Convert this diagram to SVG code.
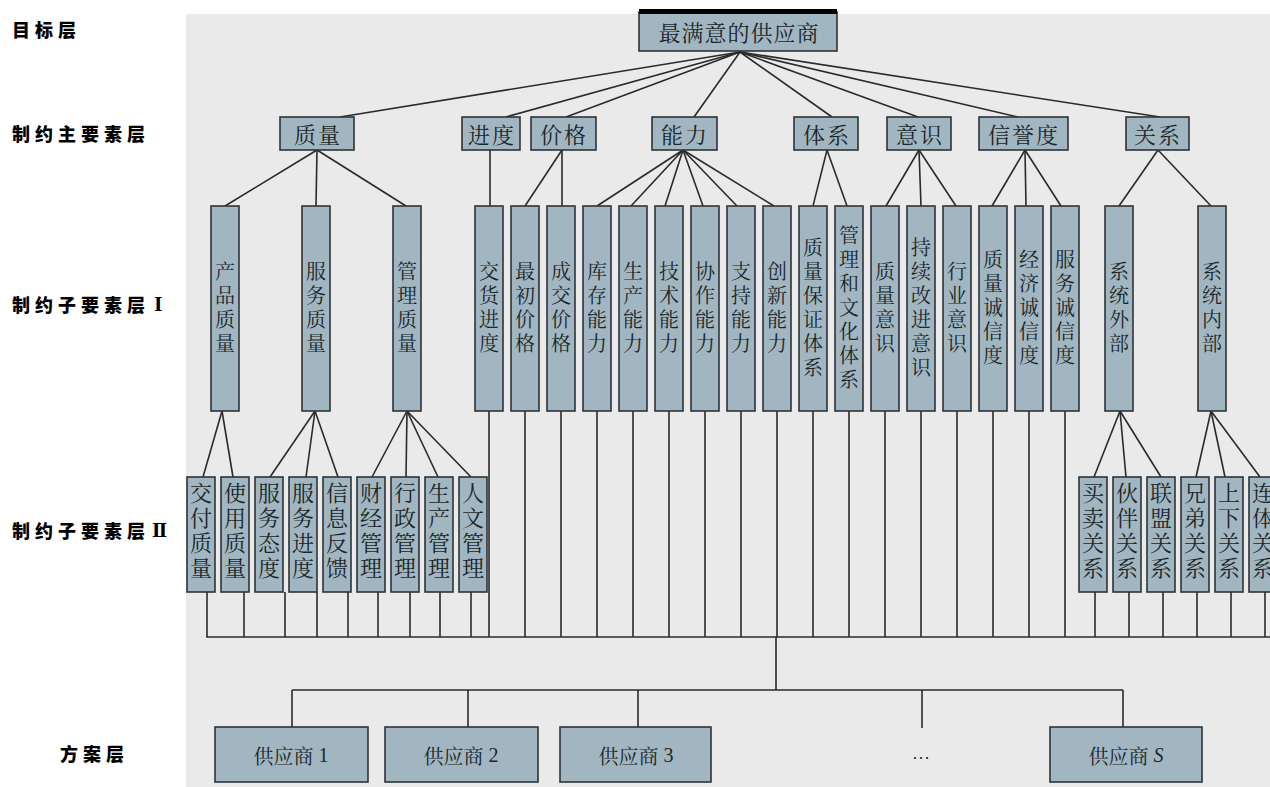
<svg xmlns="http://www.w3.org/2000/svg" width="1270" height="787" viewBox="0 0 1270 787">
<style>
.box{fill:#a2b6c2;stroke:#2e3438;stroke-width:1.6}
.t{font-family:"Noto Serif CJK SC","Noto Sans CJK SC",sans-serif;fill:#1a2628;text-anchor:middle;dominant-baseline:central}
.h{font-size:22px;letter-spacing:2px}
.v1{font-size:20px;letter-spacing:4px;writing-mode:vertical-rl}
.v2{font-size:22px;letter-spacing:3px;writing-mode:vertical-rl}
.s{font-size:20px}
.lbl{font-family:"Noto Sans CJK SC",sans-serif;font-weight:900;font-size:18px;letter-spacing:5px;fill:#000;dominant-baseline:central}
.c line{stroke:#2a2a2a;stroke-width:1.6;fill:none}
</style>
<rect x="0" y="0" width="1270" height="787" fill="#ffffff"/>
<rect x="186" y="14" width="1084" height="773" fill="#eaeaea"/>

<g id="layer-labels">
<text class="lbl" x="12" y="29">目标层</text>
<text class="lbl" x="12" y="133">制约主要素层</text>
<text class="lbl" x="12" y="304">制约子要素层<tspan x="154" font-family="DejaVu Serif,Noto Sans CJK SC,serif">Ⅰ</tspan></text>
<text class="lbl" x="12" y="530">制约子要素层<tspan x="152" font-family="DejaVu Serif,Noto Sans CJK SC,serif">Ⅱ</tspan></text>
<text class="lbl" x="60" y="753">方案层</text>
</g>

<g id="connectors" class="c">
<line x1="740" y1="52" x2="340" y2="117"/>
<line x1="740" y1="52" x2="506" y2="117"/>
<line x1="740" y1="52" x2="566" y2="117"/>
<line x1="740" y1="52" x2="694" y2="117"/>
<line x1="740" y1="52" x2="832" y2="117"/>
<line x1="740" y1="52" x2="918" y2="117"/>
<line x1="740" y1="52" x2="1018" y2="117"/>
<line x1="740" y1="52" x2="1160" y2="117"/>
<line x1="317" y1="150" x2="225" y2="206"/>
<line x1="317" y1="150" x2="316" y2="206"/>
<line x1="317" y1="150" x2="406" y2="206"/>
<line x1="490" y1="150" x2="490" y2="206"/>
<line x1="562" y1="150" x2="525" y2="206"/>
<line x1="562" y1="150" x2="562" y2="206"/>
<line x1="683" y1="150" x2="597" y2="206"/>
<line x1="683" y1="150" x2="631" y2="206"/>
<line x1="683" y1="150" x2="665" y2="206"/>
<line x1="683" y1="150" x2="703" y2="206"/>
<line x1="683" y1="150" x2="737" y2="206"/>
<line x1="683" y1="150" x2="774" y2="206"/>
<line x1="827" y1="150" x2="813" y2="206"/>
<line x1="827" y1="150" x2="847" y2="206"/>
<line x1="919" y1="150" x2="886" y2="206"/>
<line x1="919" y1="150" x2="921" y2="206"/>
<line x1="919" y1="150" x2="956" y2="206"/>
<line x1="1025" y1="150" x2="992" y2="206"/>
<line x1="1025" y1="150" x2="1026" y2="206"/>
<line x1="1025" y1="150" x2="1061" y2="206"/>
<line x1="1158" y1="150" x2="1119" y2="206"/>
<line x1="1158" y1="150" x2="1211" y2="206"/>
<line x1="222" y1="411" x2="203" y2="477"/>
<line x1="222" y1="411" x2="233" y2="477"/>
<line x1="315" y1="411" x2="270" y2="477"/>
<line x1="315" y1="411" x2="306" y2="477"/>
<line x1="315" y1="411" x2="338" y2="477"/>
<line x1="407" y1="411" x2="372" y2="477"/>
<line x1="407" y1="411" x2="406" y2="477"/>
<line x1="407" y1="411" x2="438" y2="477"/>
<line x1="407" y1="411" x2="471" y2="477"/>
<line x1="1120" y1="411" x2="1094" y2="477"/>
<line x1="1120" y1="411" x2="1126" y2="477"/>
<line x1="1120" y1="411" x2="1161" y2="477"/>
<line x1="1211" y1="411" x2="1196" y2="477"/>
<line x1="1211" y1="411" x2="1225" y2="477"/>
<line x1="1211" y1="411" x2="1260" y2="477"/>
<line x1="489" y1="411" x2="489" y2="637"/>
<line x1="525" y1="411" x2="525" y2="637"/>
<line x1="561" y1="411" x2="561" y2="637"/>
<line x1="597" y1="411" x2="597" y2="637"/>
<line x1="633" y1="411" x2="633" y2="637"/>
<line x1="669" y1="411" x2="669" y2="637"/>
<line x1="705" y1="411" x2="705" y2="637"/>
<line x1="741" y1="411" x2="741" y2="637"/>
<line x1="777" y1="411" x2="777" y2="637"/>
<line x1="813" y1="411" x2="813" y2="637"/>
<line x1="849" y1="411" x2="849" y2="637"/>
<line x1="885" y1="411" x2="885" y2="637"/>
<line x1="921" y1="411" x2="921" y2="637"/>
<line x1="957" y1="411" x2="957" y2="637"/>
<line x1="993" y1="411" x2="993" y2="637"/>
<line x1="1029" y1="411" x2="1029" y2="637"/>
<line x1="1065" y1="411" x2="1065" y2="637"/>
<line x1="207" y1="592" x2="207" y2="637"/>
<line x1="244" y1="592" x2="244" y2="637"/>
<line x1="285" y1="592" x2="285" y2="637"/>
<line x1="317" y1="592" x2="317" y2="637"/>
<line x1="348" y1="592" x2="348" y2="637"/>
<line x1="378" y1="592" x2="378" y2="637"/>
<line x1="410" y1="592" x2="410" y2="637"/>
<line x1="440" y1="592" x2="440" y2="637"/>
<line x1="471" y1="592" x2="471" y2="637"/>
<line x1="1095" y1="592" x2="1095" y2="637"/>
<line x1="1129" y1="592" x2="1129" y2="637"/>
<line x1="1163" y1="592" x2="1163" y2="637"/>
<line x1="1197" y1="592" x2="1197" y2="637"/>
<line x1="1231" y1="592" x2="1231" y2="637"/>
<line x1="1265" y1="592" x2="1265" y2="637"/>
<line x1="206" y1="637" x2="1270" y2="637"/>
<line x1="776" y1="637" x2="776" y2="690"/>
<line x1="292" y1="690" x2="1123" y2="690"/>
<line x1="292" y1="690" x2="292" y2="727"/>
<line x1="468" y1="690" x2="468" y2="727"/>
<line x1="638" y1="690" x2="638" y2="727"/>
<line x1="922" y1="690" x2="922" y2="728"/>
<line x1="1123" y1="690" x2="1123" y2="727"/>
</g>

<g id="goal">
<rect class="box" x="639" y="12" width="198" height="39"/>
<rect x="639" y="9" width="198" height="5" fill="#000"/>
<text class="t" x="739" y="31" font-size="22" letter-spacing="1">最满意的供应商</text>
</g>

<g id="main-quality"><rect class="box" x="280" y="117" width="74" height="33"/><text class="t h" x="318" y="133">质量</text></g>
<g id="main-schedule"><rect class="box" x="462" y="117" width="58" height="33"/><text class="t h" x="492" y="133">进度</text></g>
<g id="main-price"><rect class="box" x="531" y="117" width="65" height="33"/><text class="t h" x="564" y="133">价格</text></g>
<g id="main-ability"><rect class="box" x="652" y="117" width="65" height="33"/><text class="t h" x="685" y="133">能力</text></g>
<g id="main-system"><rect class="box" x="794" y="117" width="64" height="33"/><text class="t h" x="827" y="133">体系</text></g>
<g id="main-awareness"><rect class="box" x="887" y="117" width="64" height="33"/><text class="t h" x="920" y="133">意识</text></g>
<g id="main-credit"><rect class="box" x="979" y="117" width="89" height="33"/><text class="t h" x="1024" y="133">信誉度</text></g>
<g id="main-relation"><rect class="box" x="1126" y="117" width="63" height="33"/><text class="t h" x="1158" y="133">关系</text></g>

<g id="s1-product"><rect class="box" x="211" y="206" width="28" height="205"/><text class="t v1" x="225" y="309">产品质量</text></g>
<g id="s1-service"><rect class="box" x="302" y="206" width="28" height="205"/><text class="t v1" x="316" y="309">服务质量</text></g>
<g id="s1-management"><rect class="box" x="393" y="206" width="28" height="205"/><text class="t v1" x="407" y="309">管理质量</text></g>
<g id="s1-delivery"><rect class="box" x="475" y="206" width="28" height="205"/><text class="t v1" x="489" y="309">交货进度</text></g>
<g id="s1-initprice"><rect class="box" x="511" y="206" width="28" height="205"/><text class="t v1" x="525" y="309">最初价格</text></g>
<g id="s1-dealprice"><rect class="box" x="547" y="206" width="28" height="205"/><text class="t v1" x="561" y="309">成交价格</text></g>
<g id="s1-stock"><rect class="box" x="583" y="206" width="28" height="205"/><text class="t v1" x="597" y="309">库存能力</text></g>
<g id="s1-production"><rect class="box" x="619" y="206" width="28" height="205"/><text class="t v1" x="633" y="309">生产能力</text></g>
<g id="s1-tech"><rect class="box" x="655" y="206" width="28" height="205"/><text class="t v1" x="669" y="309">技术能力</text></g>
<g id="s1-coop"><rect class="box" x="691" y="206" width="28" height="205"/><text class="t v1" x="705" y="309">协作能力</text></g>
<g id="s1-support"><rect class="box" x="727" y="206" width="28" height="205"/><text class="t v1" x="741" y="309">支持能力</text></g>
<g id="s1-innov"><rect class="box" x="763" y="206" width="28" height="205"/><text class="t v1" x="777" y="309">创新能力</text></g>
<g id="s1-qa"><rect class="box" x="799" y="206" width="28" height="205"/><text class="t v1" x="813" y="309">质量保证体系</text></g>
<g id="s1-culture"><rect class="box" x="835" y="206" width="28" height="205"/><text class="t v1" x="849" y="309">管理和文化体系</text></g>
<g id="s1-qaware"><rect class="box" x="871" y="206" width="28" height="205"/><text class="t v1" x="885" y="309">质量意识</text></g>
<g id="s1-improve"><rect class="box" x="907" y="206" width="28" height="205"/><text class="t v1" x="921" y="309">持续改进意识</text></g>
<g id="s1-industry"><rect class="box" x="943" y="206" width="28" height="205"/><text class="t v1" x="957" y="309">行业意识</text></g>
<g id="s1-qcredit"><rect class="box" x="979" y="206" width="28" height="205"/><text class="t v1" x="993" y="309">质量诚信度</text></g>
<g id="s1-ecredit"><rect class="box" x="1015" y="206" width="28" height="205"/><text class="t v1" x="1029" y="309">经济诚信度</text></g>
<g id="s1-scredit"><rect class="box" x="1051" y="206" width="28" height="205"/><text class="t v1" x="1065" y="309">服务诚信度</text></g>
<g id="s1-external"><rect class="box" x="1105" y="206" width="28" height="205"/><text class="t v1" x="1119" y="309">系统外部</text></g>
<g id="s1-internal"><rect class="box" x="1198" y="206" width="28" height="205"/><text class="t v1" x="1212" y="309">系统内部</text></g>

<g id="s2-deliveryq"><rect class="box" x="187" y="477" width="28" height="115"/><text class="t v2" x="201" y="532">交付质量</text></g>
<g id="s2-useq"><rect class="box" x="221" y="477" width="28" height="115"/><text class="t v2" x="235" y="532">使用质量</text></g>
<g id="s2-attitude"><rect class="box" x="255" y="477" width="28" height="115"/><text class="t v2" x="269" y="532">服务态度</text></g>
<g id="s2-svcprog"><rect class="box" x="289" y="477" width="28" height="115"/><text class="t v2" x="303" y="532">服务进度</text></g>
<g id="s2-feedback"><rect class="box" x="323" y="477" width="28" height="115"/><text class="t v2" x="337" y="532">信息反馈</text></g>
<g id="s2-finance"><rect class="box" x="357" y="477" width="28" height="115"/><text class="t v2" x="371" y="532">财经管理</text></g>
<g id="s2-admin"><rect class="box" x="391" y="477" width="28" height="115"/><text class="t v2" x="405" y="532">行政管理</text></g>
<g id="s2-prodmgmt"><rect class="box" x="425" y="477" width="28" height="115"/><text class="t v2" x="439" y="532">生产管理</text></g>
<g id="s2-human"><rect class="box" x="459" y="477" width="28" height="115"/><text class="t v2" x="473" y="532">人文管理</text></g>
<g id="s2-trade"><rect class="box" x="1079" y="477" width="28" height="115"/><text class="t v2" x="1093" y="532">买卖关系</text></g>
<g id="s2-partner"><rect class="box" x="1113" y="477" width="28" height="115"/><text class="t v2" x="1127" y="532">伙伴关系</text></g>
<g id="s2-alliance"><rect class="box" x="1147" y="477" width="28" height="115"/><text class="t v2" x="1161" y="532">联盟关系</text></g>
<g id="s2-brother"><rect class="box" x="1181" y="477" width="28" height="115"/><text class="t v2" x="1195" y="532">兄弟关系</text></g>
<g id="s2-updown"><rect class="box" x="1215" y="477" width="28" height="115"/><text class="t v2" x="1229" y="532">上下关系</text></g>
<g id="s2-conjoined"><rect class="box" x="1249" y="477" width="28" height="115"/><text class="t v2" x="1263" y="532">连体关系</text></g>

<g id="supplier-1"><rect class="box" x="215" y="727" width="153" height="55"/><text class="t s" x="291" y="755">供应商 <tspan font-family="Liberation Serif,serif">1</tspan></text></g>
<g id="supplier-2"><rect class="box" x="385" y="727" width="153" height="55"/><text class="t s" x="461" y="755">供应商 <tspan font-family="Liberation Serif,serif">2</tspan></text></g>
<g id="supplier-3"><rect class="box" x="560" y="727" width="151" height="55"/><text class="t s" x="636" y="755">供应商 <tspan font-family="Liberation Serif,serif">3</tspan></text></g>
<g id="supplier-ellipsis"><text class="t" x="921" y="757" font-size="18" fill="#333">…</text></g>
<g id="supplier-s"><rect class="box" x="1050" y="727" width="152" height="55"/><text class="t s" x="1126" y="755">供应商 <tspan font-family="Liberation Serif,serif" font-style="italic">S</tspan></text></g>
</svg>
